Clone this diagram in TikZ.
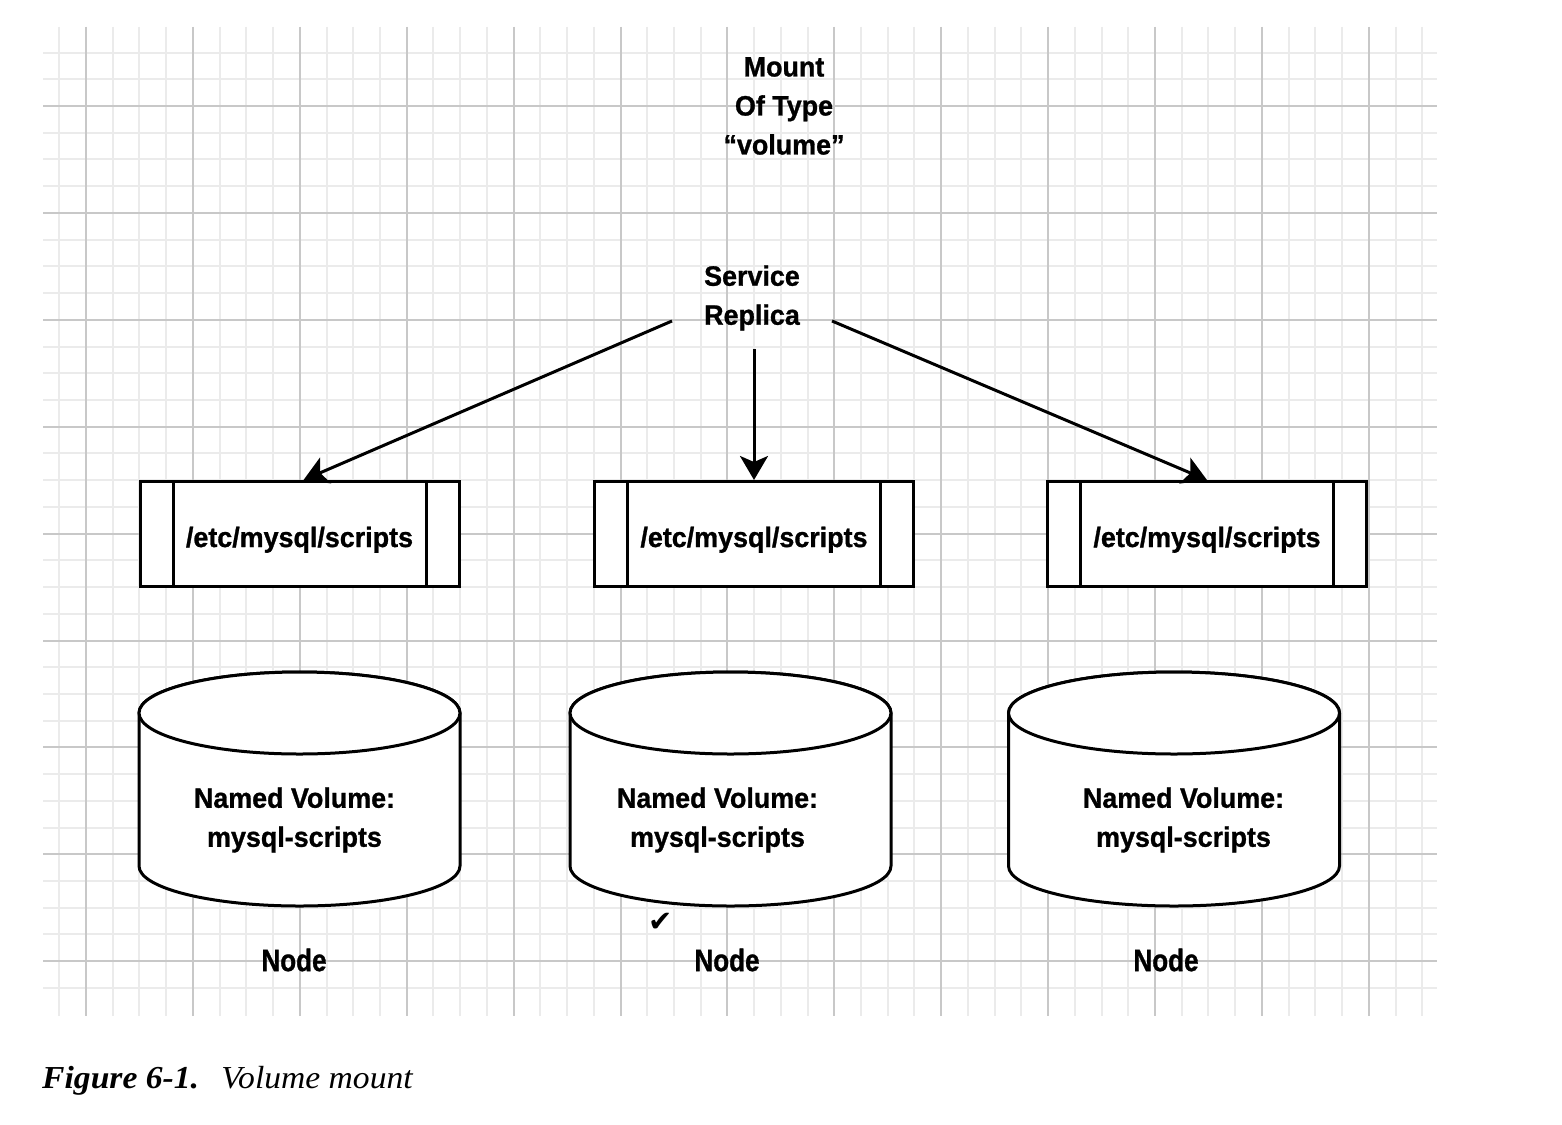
\documentclass[tikz,border=0pt]{standalone}
\usepackage{fontspec}
\usepackage{tikz}
\usetikzlibrary{arrows.meta,calc}
\newfontfamily\diagfont{Liberation Sans}[FakeStretch=0.96,FakeBold=1]
\newfontfamily\nodefont{Liberation Sans}[FakeStretch=0.84,FakeBold=1]
\newfontfamily\checkfont{DejaVu Sans}
\newfontfamily\capfont{Liberation Serif}[FakeStretch=1.05]
\definecolor{gridmajor}{HTML}{C8C8C8}
\definecolor{gridminor}{HTML}{EBEBEB}
\newcommand\mountpt[2]{\node[mpoint] (#1) at (#2,534) {/etc/mysql/scripts};}
\newcommand\namedvol[4]{\filldraw[vol] (#2-#3,713) -- (#2-#3,866) arc[start angle=180,end angle=0,x radius=#3,y radius=40] -- (#2+#3,713) arc[start angle=0,end angle=-180,x radius=#3,y radius=41] -- cycle; \filldraw[vol] (#2,713) ellipse[x radius=#3,y radius=41]; \node[lbl] (#1) at (#4,820) {Named Volume:\\mysql-scripts};}
\newcommand\host[2]{\node[hostlbl] (#1) at (#2,960) {Node};}

\begin{document}
\begin{tikzpicture}[x=1pt,y=-1pt]
\tikzstyle{minor}=[gridminor,line width=2pt]
\tikzstyle{major}=[gridmajor,line width=2pt]
\tikzstyle{lbl}=[font=\diagfont\bfseries\fontsize{28}{39}\selectfont,align=center,inner sep=0pt]
\tikzstyle{hostlbl}=[font=\nodefont\bfseries\fontsize{31}{39}\selectfont,inner sep=0pt]
\tikzstyle{mpoint}=[draw,line width=3pt,fill=white,minimum width=319pt,minimum height=105pt,inner sep=0pt,
  font=\diagfont\bfseries\fontsize{28}{39}\selectfont,text height=26pt,text depth=0pt,
  path picture={\draw[line width=3pt] ([xshift=33pt]path picture bounding box.north west) -- ([xshift=33pt]path picture bounding box.south west);
    \draw[line width=3pt] ([xshift=-33pt]path picture bounding box.north east) -- ([xshift=-33pt]path picture bounding box.south east);}]
\tikzstyle{vol}=[draw=black,fill=white,line width=3pt]
\tikzstyle{link}=[draw,line width=3pt,-{Stealth[length=24pt,width=28pt,inset=6pt]}]
\useasboundingbox[fill=white] (0,0) rectangle (1562,1124);
\foreach \i in {-1,...,50} \draw[minor] ({86+\i*26.725},27) -- ({86+\i*26.725},1016);
\foreach \i in {-2,...,33} \draw[minor] (43,{106+\i*26.725}) -- (1437,{106+\i*26.725});
\foreach \i in {0,...,12} \draw[major] ({86+\i*106.9},27) -- ({86+\i*106.9},1016);
\foreach \i in {0,...,8} \draw[major] (43,{106+\i*106.9}) -- (1437,{106+\i*106.9});
\node[lbl] (mount) at (784,106) {Mount\\Of Type\\“volume”};
\node[lbl,inner xsep=32pt,inner ysep=18pt] (replica) at (752,298) {Service\\Replica};
\mountpt{mp1}{299.5}
\mountpt{mp2}{754}
\mountpt{mp3}{1207}
\draw[link] ([yshift=-23pt]replica.west) -- ([xshift=4pt]mp1.north);
\draw[link] (replica.south -| mp2.north) -- (mp2.north);
\draw[link] ([yshift=-23pt]replica.east) -- (mp3.north);
\namedvol{vol1}{299.5}{160.5}{294.5}
\namedvol{vol2}{730.5}{160.5}{717.5}
\namedvol{vol3}{1174}{165.5}{1183.5}
\host{host1}{294}
\host{host2}{727}
\host{host3}{1166}
\node[font=\checkfont\fontsize{29}{29}\selectfont,inner sep=0pt] (check) at (661,922) {✔};
\node[anchor=base west,inner sep=0pt,font=\capfont\fontsize{32}{36}\selectfont] (caption) at (42,1088) {\textbf{\textit{Figure 6-1.}}\hspace{0.7em}\textit{Volume mount}};
\end{tikzpicture}
\end{document}
